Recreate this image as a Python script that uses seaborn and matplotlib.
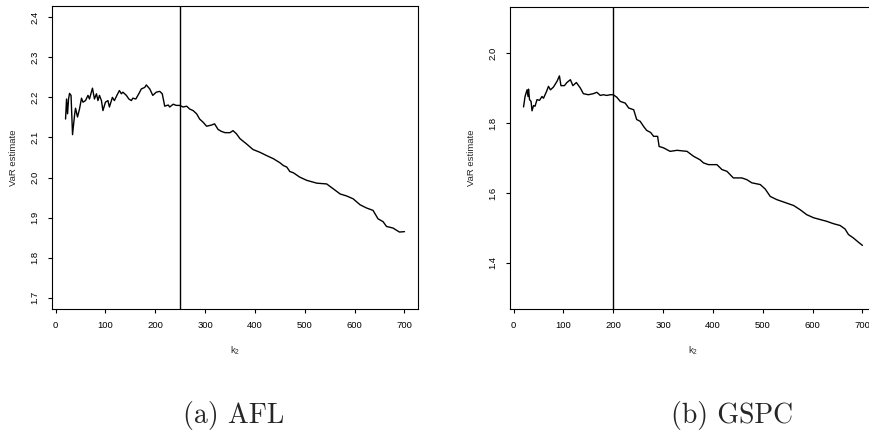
import matplotlib
matplotlib.use("Agg")
import matplotlib.pyplot as plt
import seaborn as sns
import pandas as pd

# ---- data ----
afl_k = [20, 22, 24, 26, 28, 31, 34, 38, 40, 44, 48, 52, 55, 60, 65, 68, 74, 78, 82, 85,
         88, 92, 95, 100, 105, 108, 114, 118, 123, 128, 132, 135, 142, 147, 152, 155, 161,
         167, 172, 179, 182, 189, 195, 202, 209, 214, 219, 226, 229, 236, 242, 249, 256,
         263, 269, 276, 283, 289, 296, 303, 313, 319, 326, 333, 340, 350, 356, 363, 370,
         383, 396, 410, 423, 437, 450, 457, 464, 470, 477, 490, 504, 524, 544, 557, 571,
         584, 597, 611, 624, 637, 647, 657, 664, 677, 690, 700]
afl_var = [2.146, 2.196, 2.159, 2.196, 2.210, 2.205, 2.107, 2.155, 2.173, 2.151, 2.171,
           2.198, 2.188, 2.192, 2.205, 2.196, 2.223, 2.196, 2.209, 2.192, 2.205, 2.192,
           2.167, 2.188, 2.192, 2.176, 2.200, 2.192, 2.205, 2.217, 2.209, 2.213, 2.205,
           2.196, 2.192, 2.198, 2.196, 2.209, 2.221, 2.225, 2.231, 2.221, 2.205, 2.213,
           2.215, 2.209, 2.178, 2.181, 2.176, 2.183, 2.180, 2.180, 2.176, 2.178, 2.171,
           2.167, 2.159, 2.146, 2.138, 2.128, 2.131, 2.134, 2.120, 2.115, 2.112, 2.112,
           2.117, 2.109, 2.097, 2.084, 2.070, 2.063, 2.055, 2.047, 2.037, 2.030, 2.026,
           2.015, 2.012, 2.001, 1.993, 1.986, 1.984, 1.972, 1.959, 1.954, 1.947, 1.932,
           1.924, 1.918, 1.897, 1.890, 1.878, 1.874, 1.864, 1.865]

gspc_k = [20, 23, 27, 29, 30, 32, 35, 37, 40, 43, 47, 52, 57, 60, 66, 70, 74, 80, 87, 92,
          95, 102, 107, 114, 119, 126, 134, 140, 150, 160, 167, 174, 180, 187, 194, 200,
          207, 214, 224, 231, 241, 247, 254, 261, 267, 275, 281, 289, 292, 301, 314, 328,
          348, 361, 374, 381, 391, 408, 418, 428, 441, 458, 468, 478, 495, 505, 515, 528,
          548, 562, 575, 588, 602, 615, 628, 642, 655, 665, 672, 682, 692, 700]
gspc_var = [1.846, 1.876, 1.895, 1.876, 1.897, 1.867, 1.862, 1.835, 1.850, 1.848, 1.867,
            1.865, 1.876, 1.871, 1.890, 1.905, 1.895, 1.903, 1.919, 1.935, 1.907, 1.907,
            1.916, 1.924, 1.907, 1.916, 1.900, 1.884, 1.881, 1.884, 1.888, 1.879, 1.881,
            1.879, 1.881, 1.881, 1.874, 1.862, 1.857, 1.843, 1.838, 1.810, 1.805, 1.790,
            1.779, 1.773, 1.762, 1.762, 1.733, 1.729, 1.719, 1.722, 1.719, 1.705, 1.695,
            1.686, 1.681, 1.681, 1.667, 1.662, 1.643, 1.643, 1.638, 1.629, 1.624, 1.611,
            1.590, 1.581, 1.571, 1.564, 1.552, 1.538, 1.529, 1.524, 1.519, 1.512, 1.507,
            1.497, 1.481, 1.471, 1.459, 1.450]

afl_cut = 250
gspc_cut = 200
afl_yticks = [1.7, 1.8, 1.9, 2.0, 2.1, 2.2, 2.3, 2.4]
gspc_yticks = [1.4, 1.6, 1.8, 2.0]
xticks = [0, 100, 200, 300, 400, 500, 600, 700]
captions = ["(a) AFL", "(b) GSPC"]

# ---- style ----
sns.set_style("white")
plt.rcParams['font.family'] = ['Liberation Sans', 'DejaVu Sans']

W, H = 870, 445
fig = plt.figure(figsize=(W / 100, H / 100), dpi=100)

def px_axes(left, top, right, bottom):
    return fig.add_axes([left / W, 1 - bottom / H, (right - left) / W, (bottom - top) / H])

ax1 = px_axes(52, 6, 418, 309)
ax2 = px_axes(510, 7, 876, 309)

panels = [
    (ax1, afl_k, afl_var, afl_cut, afl_yticks, (1.672, 2.428)),
    (ax2, gspc_k, gspc_var, gspc_cut, gspc_yticks, (1.268, 2.132)),
]

for ax, k, v, cut, yt, ylim in panels:
    df = pd.DataFrame({"k2": k, "VaR": v})
    sns.lineplot(data=df, x="k2", y="VaR", ax=ax, color="black", linewidth=1.0,
                 estimator=None, sort=False)
    ax.axvline(cut, color="black", linewidth=1.0)
    ax.set_xlim(-7.2, 727.2)
    ax.set_ylim(*ylim)
    ax.set_xticks(xticks)
    ax.set_yticks(yt)
    ax.set_xticklabels([str(t) for t in xticks])
    ax.set_yticklabels([f"{t:.1f}" for t in yt], rotation=90, va="center")
    ax.tick_params(axis="both", direction="out", length=3, width=0.8, labelsize=6.8,
                   colors="black", pad=6, bottom=True, left=True)
    for s in ax.spines.values():
        s.set_visible(True)
        s.set_color("black")
        s.set_linewidth(0.8)
    ax.set_xlabel("$\\mathregular{k_2}$", fontsize=6.8, labelpad=10)
    ax.set_ylabel("VaR estimate", fontsize=6.8, labelpad=9)
    ax.grid(False)

fig.text(234 / W, 1 - 415 / H, captions[0], family="cmr10", fontsize=20,
         ha="center", va="center")
fig.text(732 / W, 1 - 415 / H, captions[1], family="cmr10", fontsize=20,
         ha="center", va="center")

fig.savefig("out.png", dpi=100)
